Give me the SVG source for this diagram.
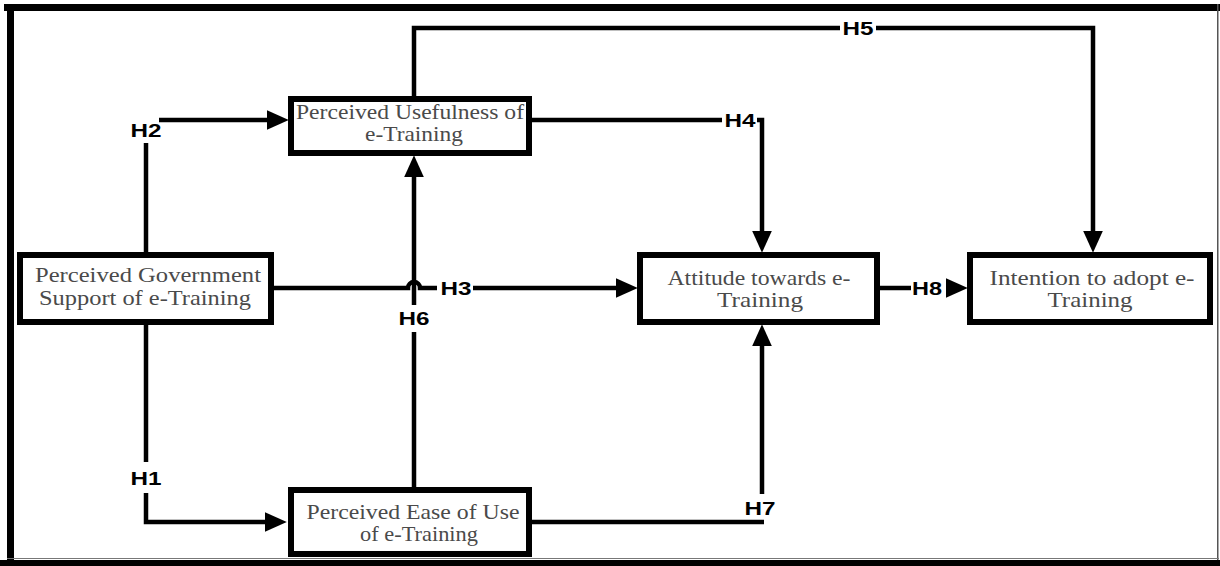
<svg xmlns="http://www.w3.org/2000/svg" width="1220" height="566" viewBox="0 0 1220 566">
<defs>
<marker id="arr" markerUnits="userSpaceOnUse" markerWidth="22" markerHeight="20" refX="12" refY="9" orient="auto" viewBox="0 0 20 18">
<path d="M0 0 L20 9 L0 18 z" fill="#000"/>
</marker>
<style>
.box{fill:#fff;stroke:#000;stroke-width:6}
.bt{font-family:"Liberation Serif","Times New Roman",serif;font-size:21px;fill:#4a4a4a;text-anchor:middle}
.lb{font-family:"Liberation Sans",Arial,sans-serif;font-size:18px;font-weight:bold;fill:#000;text-anchor:middle}
.ln{fill:none;stroke:#000;stroke-width:4.5}
.ar{marker-end:url(#arr)}
</style>
</defs>
<rect x="0" y="0" width="1220" height="566" fill="#fff"/>
<g id="frame">
<rect x="4" y="4" width="1216" height="7" fill="#000"/>
<rect x="7" y="4" width="7" height="556" fill="#000"/>
<rect x="1217" y="4" width="1.5" height="556" fill="#555"/>
<rect x="7" y="558" width="1212" height="1" fill="#777"/>
<rect x="0" y="560" width="1220" height="6" fill="#000"/>
</g>
<g id="connectors">
<path class="ln" d="M146 252 V143"/>
<path class="ln ar" d="M159 120 H280"/>
<path class="ln" d="M146 325 V462"/>
<path class="ln ar" d="M146 493 V522 H278"/>
<path class="ln" d="M414 487 V332"/>
<path class="ln ar" d="M414 305 V164"/>
<path class="ln" d="M274 288 H408 a6 6 0 0 1 12 0 H437"/>
<path class="ln ar" d="M473 288 H629"/>
<path class="ln" d="M532 120 H722"/>
<path class="ln ar" d="M757 120 H762 V244"/>
<path class="ln" d="M414 96 V28 H840"/>
<path class="ln ar" d="M876 28 H1093 V244"/>
<path class="ln" d="M532 522 H764"/>
<path class="ln ar" d="M762 494 V333"/>
<path class="ln" d="M880 288 H911"/>
<path class="ln ar" d="M946 288 H959"/>
<text class="lb" x="146" y="137" textLength="31" lengthAdjust="spacingAndGlyphs">H2</text>
<text class="lb" x="146" y="485" textLength="31" lengthAdjust="spacingAndGlyphs">H1</text>
<text class="lb" x="414" y="325" textLength="31" lengthAdjust="spacingAndGlyphs">H6</text>
<text class="lb" x="456" y="295" textLength="31" lengthAdjust="spacingAndGlyphs">H3</text>
<text class="lb" x="740" y="127" textLength="31" lengthAdjust="spacingAndGlyphs">H4</text>
<text class="lb" x="858" y="35" textLength="31" lengthAdjust="spacingAndGlyphs">H5</text>
<text class="lb" x="760" y="515" textLength="31" lengthAdjust="spacingAndGlyphs">H7</text>
<text class="lb" x="927" y="295" textLength="30" lengthAdjust="spacingAndGlyphs">H8</text>
</g>
<g id="pu">
<rect class="box" x="291" y="99" width="238" height="54"/>
<text class="bt" x="410" y="119" textLength="228" lengthAdjust="spacingAndGlyphs">Perceived Usefulness of</text>
<text class="bt" x="414" y="141" textLength="98" lengthAdjust="spacingAndGlyphs">e-Training</text>
</g>
<g id="pgs">
<rect class="box" x="20" y="255" width="251" height="67"/>
<text class="bt" x="148" y="282" textLength="226" lengthAdjust="spacingAndGlyphs">Perceived Government</text>
<text class="bt" x="145" y="305" textLength="212" lengthAdjust="spacingAndGlyphs">Support of e-Training</text>
</g>
<g id="att">
<rect class="box" x="640" y="255" width="237" height="67"/>
<text class="bt" x="759" y="285" textLength="183" lengthAdjust="spacingAndGlyphs">Attitude towards e-</text>
<text class="bt" x="760" y="307" textLength="86" lengthAdjust="spacingAndGlyphs">Training</text>
</g>
<g id="int">
<rect class="box" x="970" y="255" width="240" height="67"/>
<text class="bt" x="1092" y="285" textLength="205" lengthAdjust="spacingAndGlyphs">Intention to adopt e-</text>
<text class="bt" x="1090" y="307" textLength="85" lengthAdjust="spacingAndGlyphs">Training</text>
</g>
<g id="peu">
<rect class="box" x="291" y="490" width="238" height="64"/>
<text class="bt" x="413" y="519" textLength="213" lengthAdjust="spacingAndGlyphs">Perceived Ease of Use</text>
<text class="bt" x="419" y="541" textLength="118" lengthAdjust="spacingAndGlyphs">of e-Training</text>
</g>
</svg>
